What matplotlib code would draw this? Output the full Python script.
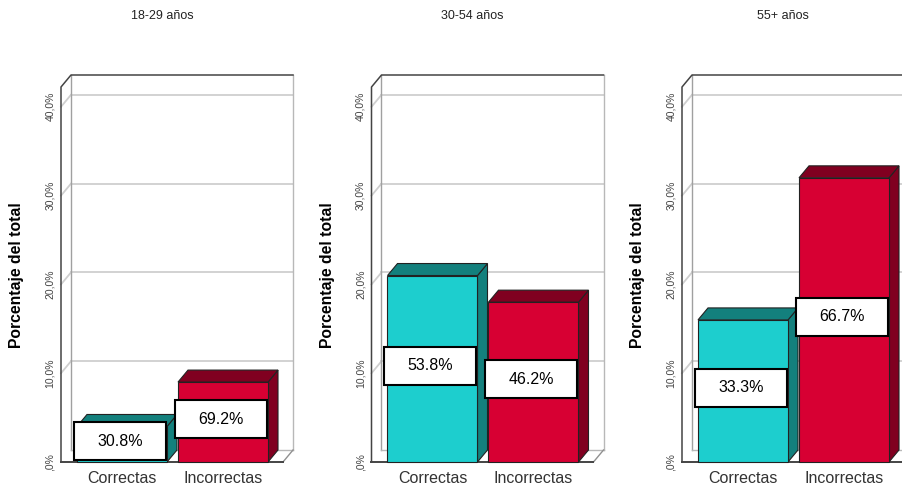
import numpy as np
import matplotlib
matplotlib.use('Agg')
import matplotlib.pyplot as plt
from matplotlib.patches import Polygon, Rectangle

plt.rcParams['font.family'] = ['Liberation Sans', 'DejaVu Sans']

# respuestas por grupo de edad (n total = 100)
grupos = ['18-29 años', '30-54 años', '55+ años']
categorias = ['Correctas', 'Incorrectas']
correctas = [4, 21, 16]
incorrectas = [9, 18, 32]
ticks = [0, 10, 20, 30, 40]
tick_labels = [',0%', '10,0%', '20,0%', '30,0%', '40,0%']

total = sum(correctas) + sum(incorrectas)

frente = ['#1DCECE', '#D70033']
sombra = ['#13807D', '#800020']

W, H = 903, 488
fig = plt.figure(figsize=(W / 100, H / 100), dpi=100)


def fx(px):
    return px / W


def fy(py):
    return (H - py) / H


# escala: 101 px por categoria, 8.88 px por punto porcentual
PX_X, PX_Y = 101.0, 8.88
DX, DY = 10 / PX_X, 12 / PX_Y        # profundidad 3D
ANCHO = 90 / PX_X
X_EJE, X_FIN = (61 - 122) / PX_X, (283 - 122) / PX_X
Y_TOP = (462 - 87) / PX_Y

for i, grupo in enumerate(grupos):
    ox = 310.5 * i
    x0, x1 = 40 + ox, 300 + ox
    ax = fig.add_axes([fx(x0), fy(480), fx(x1 - x0), fy(60) - fy(480)])
    ax.set_xlim((x0 - ox - 122) / PX_X, (x1 - ox - 122) / PX_X)
    ax.set_ylim((462 - 480) / PX_Y, (462 - 60) / PX_Y)
    ax.patch.set_visible(False)

    # paredes y suelo
    ax.add_patch(Polygon([(X_EJE, 0), (X_EJE, Y_TOP), (X_EJE + DX, Y_TOP + DY), (X_EJE + DX, DY)],
                         closed=True, fc='white', ec='none', zorder=0))
    ax.add_patch(Polygon([(X_EJE, 0), (X_FIN, 0), (X_FIN + DX, DY), (X_EJE + DX, DY)],
                         closed=True, fc='white', ec='none', zorder=0))
    for v in ticks[1:]:
        ax.plot([X_EJE + DX, X_FIN + DX], [v + DY, v + DY], color='#CFCFCF', lw=1.3, zorder=1)
        ax.plot([X_EJE, X_EJE + DX], [v, v + DY], color='#CFCFCF', lw=1.3, zorder=1)
    ax.plot([X_EJE + DX, X_EJE + DX], [DY, Y_TOP + DY], color='#A0A0A0', lw=1.0, zorder=1)
    ax.plot([X_FIN + DX, X_FIN + DX], [DY, Y_TOP + DY], color='#B8B8B8', lw=1.0, zorder=1)
    ax.plot([X_EJE + DX, X_FIN + DX], [DY, DY], color='#B8B8B8', lw=1.0, zorder=1)
    ax.plot([X_FIN, X_FIN + DX], [0, DY], color='#909090', lw=1.0, zorder=1)
    ax.plot([X_EJE, X_EJE, X_EJE + DX, X_FIN + DX], [0, Y_TOP, Y_TOP + DY, Y_TOP + DY],
            color='#444444', lw=1.1, zorder=2)
    ax.plot([X_EJE, X_FIN], [0, 0], color='#444444', lw=1.4, zorder=2)

    # barras 3D
    cuentas = [correctas[i], incorrectas[i]]
    n_grupo = sum(cuentas)
    alturas = [100 * c / total for c in cuentas]
    xs = np.arange(len(categorias))
    ax.bar(xs, alturas, width=ANCHO, color=frente, edgecolor='#222222', lw=0.8, zorder=5)
    for x, h, c_osc in zip(xs, alturas, sombra):
        xl, xr = x - ANCHO / 2, x + ANCHO / 2
        ax.add_patch(Polygon([(xr, 0), (xr + DX, DY), (xr + DX, h + DY), (xr, h)],
                             closed=True, fc=c_osc, ec='#222222', lw=0.8, zorder=4))
        ax.add_patch(Polygon([(xl, h), (xr, h), (xr + DX, h + DY), (xl + DX, h + DY)],
                             closed=True, fc=c_osc, ec='#222222', lw=0.8, zorder=4))

    # etiquetas: porcentaje dentro del grupo
    for x, h, c in zip(xs, alturas, cuentas):
        cx, cy = x - 0.02, h / 2 + DY / 4
        bw, bh = 92 / PX_X, 38 / PX_Y
        ax.add_patch(Rectangle((cx - bw / 2, cy - bh / 2), bw, bh,
                               fc='white', ec='black', lw=1.5, zorder=6))
        ax.text(cx, cy, f'{100 * c / n_grupo:.1f}%', ha='center', va='center',
                fontsize=11.5, color='black', zorder=7)

    for s in ax.spines.values():
        s.set_visible(False)
    ax.spines['left'].set_position(('data', X_EJE))
    ax.spines['bottom'].set_position(('data', 0))
    ax.set_xticks(xs)
    ax.set_xticklabels(categorias, fontsize=11.5, color='#333333')
    ax.set_yticks(ticks)
    ax.set_yticklabels(tick_labels, fontsize=7.5, color='#444444')
    plt.setp(ax.get_yticklabels(), rotation=90, va='center')
    ax.tick_params(axis='x', length=0, pad=6.5)
    ax.tick_params(axis='y', length=0, pad=4.3)

    fig.text(fx(17 + ox), fy(275), 'Porcentaje del total', rotation=90,
             ha='center', va='center', fontsize=11.3, fontweight='bold')
    fig.text(fx(162 + ox), fy(16), grupo, ha='center', va='center',
             fontsize=9, color='#222222')

fig.savefig('out.png', dpi=100)
